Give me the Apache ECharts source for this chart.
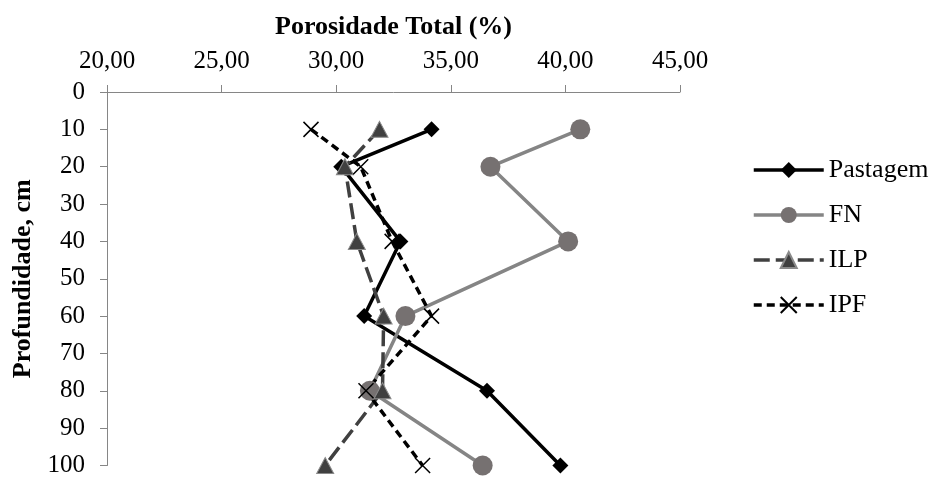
<!DOCTYPE html>
<html>
<head>
<meta charset="utf-8">
<script src="https://cdn.jsdelivr.net/npm/echarts@6/dist/echarts.min.js"></script>
<style>
html,body{margin:0;padding:0;background:#fff;}
#c{width:934px;height:478px;}
</style>
</head>
<body>
<div id="c"></div>
<script>
// Depths (cm)
const depths = [10, 20, 40, 60, 80, 100];
// Porosidade Total (%) per system
const pastagem = [34.16, 30.22, 32.80, 31.22, 36.58, 39.78];
const fn       = [40.65, 36.73, 40.12, 33.02, 31.47, 36.39];
const ilp      = [31.89, 30.38, 30.90, 32.07, 32.02, 29.52];
const ipf      = [28.90, 31.07, 32.44, 34.16, 31.30, 33.77];
const seriesNames = ['Pastagem', 'FN', 'ILP', 'IPF'];
const xTicks = [20, 25, 30, 35, 40, 45];
const yTicks = [0, 10, 20, 30, 40, 50, 60, 70, 80, 90, 100];

function pairs(vals) { return vals.map((v, i) => [v, depths[i]]); }

const FONT = '"Liberation Serif", "Times New Roman", serif';
const axisGray = '#868686';

const chart = echarts.init(document.getElementById('c'), null, {renderer: 'canvas'});
chart.setOption({
  animation: false,
  backgroundColor: '#ffffff',
  textStyle: {fontFamily: FONT, color: '#000'},
  grid: {left: 107, top: 92, width: 573, height: 376, containLabel: false},
  xAxis: {
    type: 'value',
    position: 'top',
    min: xTicks[0], max: xTicks[xTicks.length - 1], interval: 5,
    name: 'Porosidade Total (%)',
    nameLocation: 'middle',
    nameGap: 52,
    nameTextStyle: {fontFamily: FONT, fontSize: 26, fontWeight: 'bold', color: '#000'},
    axisLine: {show: true, lineStyle: {color: axisGray, width: 1}},
    axisTick: {show: true, inside: false, length: 7, lineStyle: {color: axisGray}},
    splitLine: {show: false},
    axisLabel: {
      fontFamily: FONT, fontSize: 25, color: '#000', margin: 18,
      formatter: v => v.toFixed(2).replace('.', ',')
    }
  },
  yAxis: {
    type: 'value',
    inverse: true,
    min: yTicks[0], max: yTicks[yTicks.length - 1], interval: 10,
    name: 'Profundidade, cm',
    nameLocation: 'middle',
    nameGap: 70,
    nameRotate: 90,
    nameTextStyle: {fontFamily: FONT, fontSize: 26, fontWeight: 'bold', color: '#000'},
    axisLine: {show: true, lineStyle: {color: axisGray, width: 1}},
    axisTick: {show: true, inside: false, length: 7, lineStyle: {color: axisGray}},
    splitLine: {show: false},
    axisLabel: {fontFamily: FONT, fontSize: 25, color: '#000', margin: 22}
  },
  legend: {
    orient: 'vertical',
    left: 747,
    top: 150,
    itemWidth: 70,
    itemHeight: 20,
    itemGap: 15,
    lineStyle: {width: 3.5},
    textStyle: {fontFamily: FONT, fontSize: 26, color: '#000', lineHeight: 30},
    data: seriesNames
  },
  series: [
    {
      name: seriesNames[0], type: 'line', data: pairs(pastagem),
      symbol: 'diamond', symbolSize: 16,
      lineStyle: {color: '#000000', width: 3.5},
      itemStyle: {color: '#000000'}
    },
    {
      name: seriesNames[1], type: 'line', data: pairs(fn),
      symbol: 'circle', symbolSize: 20,
      lineStyle: {color: '#858585', width: 3.5},
      itemStyle: {color: '#767171'}
    },
    {
      name: seriesNames[2], type: 'line', data: pairs(ilp),
      symbol: 'triangle', symbolSize: [17, 16],
      lineStyle: {color: '#404040', width: 3.5, type: [16, 6]},
      itemStyle: {color: '#404040', borderColor: '#8a8a8a', borderWidth: 1}
    },
    {
      name: seriesNames[3], type: 'line', data: pairs(ipf),
      symbol: 'path://M0 0 L10 10 M10 0 L0 10', symbolSize: 15,
      lineStyle: {color: '#000000', width: 3.5, type: [8, 5]},
      itemStyle: {color: '#000000', borderColor: '#000000', borderWidth: 1.5}
    }
  ]
});
</script>
</body>
</html>
